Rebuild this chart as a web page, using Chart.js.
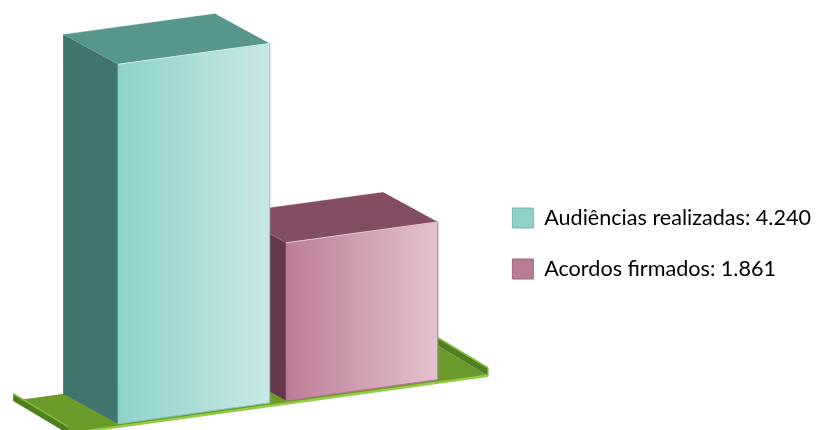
<!DOCTYPE html>
<html>
<head>
<meta charset="utf-8">
<script src="https://cdn.jsdelivr.net/npm/chart.js@4.4.0/dist/chart.umd.min.js"></script>
<style>
  html, body { margin: 0; padding: 0; background: #fff; }
  #wrap { width: 821px; height: 430px; }
</style>
</head>
<body>
<div id="wrap"><canvas id="chart"></canvas></div>
<script>
const categories = ['Audiências realizadas', 'Acordos firmados'];
const values = [4240, 1861];

const frontLeft = ['#8dd2c9', '#bc7d97'];
const frontRight = ['#c9e8e5', '#e3c2ce'];
const topColors = ['#56968c', '#844d64'];
const sideColors = ['#3f756e', '#66374c'];
const edgeColors = ['#86c6bd', '#b27590'];
const legendColors = ['#8dd1c8', '#b97c95'];
const legendBorders = ['#74b9af', '#a06780'];

const skew = 0.138;
const depth = { x: -55, y: -30 };

function fmt(n) {
    return String(n).replace(/\B(?=(\d{3})+(?!\d))/g, '.');
}

// draws the bars as oblique boxes standing on a green tray
const boxes3d = {
    id: 'boxes3d',
    beforeDatasetsDraw(chart) {
        const ctx = chart.ctx;
        const area = chart.chartArea;
        const ref = area.left;
        const sk = (x, y) => [x, y - skew * (x - ref)];
        const back = p => [p[0] + depth.x, p[1] + depth.y];
        const up = (p, h) => [p[0], p[1] - h];
        const poly = (pts, fill) => {
            ctx.beginPath();
            ctx.moveTo(pts[0][0], pts[0][1]);
            pts.slice(1).forEach(p => ctx.lineTo(p[0], p[1]));
            ctx.closePath();
            ctx.fillStyle = fill;
            ctx.fill();
        };
        const line = (a, b, color, w) => {
            ctx.beginPath();
            ctx.moveTo(a[0], a[1]);
            ctx.lineTo(b[0], b[1]);
            ctx.strokeStyle = color;
            ctx.lineWidth = w;
            ctx.stroke();
        };

        const bars = chart.data.datasets.map((d, i) => chart.getDatasetMeta(i).data[0]);
        const first = bars[0], last = bars[bars.length - 1];

        ctx.save();

        // tray
        const base = chart.scales.y.getPixelForValue(0);
        const fl = first.x - first.width / 2 - 50;
        const fr = last.x + last.width / 2 + 50;
        const f1 = sk(fl, base + 3), f2 = sk(fr, base + 3);
        const b1 = back(sk(fl, base)), b2 = back(sk(fr, base));
        poly([f1, f2, b2, b1], '#6b9b2b');
        poly([b2, f2, up(f2, 8), up(b2, 8)], '#4f801f');
        line(up(b2, 8), up(f2, 8), '#86bf3c', 1.5);
        line(f2, up(f2, 8), '#7bb236', 1.5);
        poly([b1, f1, up(f1, 7), up(b1, 7)], '#4f801f');
        line(up(b1, 7), up(f1, 7), '#86bf3c', 1.5);
        line(f1, f2, '#94cc45', 2.5);

        for (let i = bars.length - 1; i >= 0; i--) {
            const { x, y, base: b, width } = bars[i].getProps(['x', 'y', 'base', 'width'], true);
            const xl = x - width / 2, xr = x + width / 2;
            const flt = sk(xl, y), frt = sk(xr, y), flb = sk(xl, b), frb = sk(xr, b);

            poly([flt, flb, back(flb), back(flt)], sideColors[i]);
            poly([flt, frt, back(frt), back(flt)], topColors[i]);
            line(back(flt), back(frt), 'rgba(255,255,255,0.35)', 1);

            const g = ctx.createLinearGradient(xl, 0, xr, 0);
            g.addColorStop(0, frontLeft[i]);
            g.addColorStop(1, frontRight[i]);
            poly([flt, frt, frb, flb], g);
            ctx.strokeStyle = edgeColors[i];
            ctx.lineWidth = 1;
            ctx.stroke();
            line(flt, frt, 'rgba(255,255,255,0.6)', 1);
        }

        ctx.restore();
        return false;
    }
};

new Chart(document.getElementById('chart'), {
    type: 'bar',
    data: {
        labels: [''],
        datasets: categories.map((c, i) => ({
            label: c,
            data: [values[i]],
            backgroundColor: legendColors[i],
            borderColor: legendBorders[i],
            barPercentage: 0.902,
            categoryPercentage: 0.82
        }))
    },
    options: {
        responsive: true,
        maintainAspectRatio: false,
        animation: false,
        layout: {
            padding: { left: 73, right: 0, top: 57, bottom: 0 }
        },
        scales: {
            x: { display: false },
            y: { display: false, min: 0, max: 4400 }
        },
        plugins: {
            tooltip: { enabled: false },
            legend: {
                position: 'right',
                labels: {
                    boxWidth: 21,
                    boxHeight: 20,
                    padding: 29.4,
                    color: '#3a3a3a',
                    font: { family: 'Lato', size: 21.6 },
                    generateLabels: () => categories.map((c, i) => ({
                        text: c + ': ' + fmt(values[i]),
                        fillStyle: legendColors[i],
                        strokeStyle: legendBorders[i],
                        lineWidth: 1,
                        hidden: false,
                        datasetIndex: i
                    }))
                }
            }
        }
    },
    plugins: [boxes3d]
});
</script>
</body>
</html>
